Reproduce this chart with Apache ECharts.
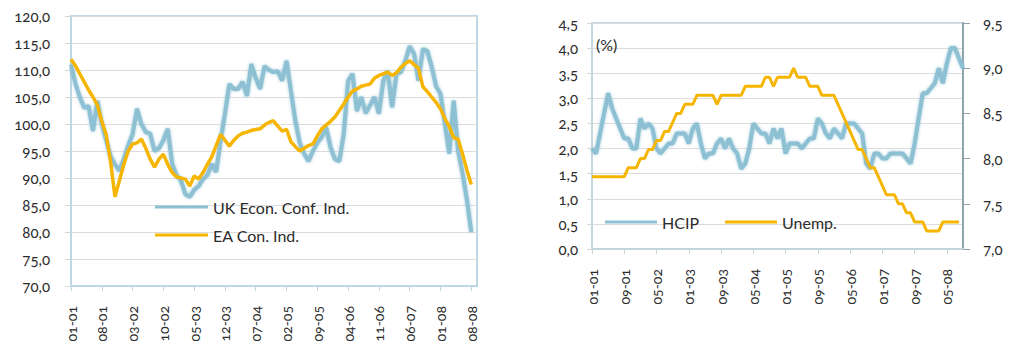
<!DOCTYPE html>
<html>
<head>
<meta charset="utf-8">
<script src="https://cdn.jsdelivr.net/npm/echarts@6/dist/echarts.min.js"></script>
<style>
  html, body { margin: 0; padding: 0; background: #fff; }
  #chart { width: 1010px; height: 352px; }
  /* humanist old-style figures for all chart text */
  #chart text { font-variant-numeric: oldstyle-nums !important; font-feature-settings: "onum" 1 !important; }
</style>
</head>
<body>
<div id="chart"></div>
<script>
// Monthly series, January 2001 onwards (index 0 = 2001-01)
const ukConf = [
  111.0,107.5,105.0,103.0,103.3,98.7,104.3,100.0,97.0,94.0,
  92.5,91.3,93.5,96.0,98.1,102.8,100.0,98.5,98.2,95.0,
  95.5,97.0,99.1,92.6,90.5,89.5,87.0,86.5,87.8,88.5,
  89.8,90.5,92.6,91.1,96.9,101.9,107.4,106.5,106.5,107.8,
  105.2,111.1,108.5,106.5,110.7,110.0,109.6,109.8,108.0,111.7,
  106.1,100.6,96.5,94.5,93.1,95.0,96.5,97.6,99.4,95.7,
  93.5,93.1,98.1,108.0,109.3,102.4,105.0,102.0,103.5,105.0,
  101.9,108.0,109.8,103.1,109.3,109.6,111.7,114.4,113.0,108.0,
  113.9,113.5,110.6,107.0,105.6,100.0,94.5,104.3,95.0,91.0,
  86.0,80.0
];
const eaConf = [
  112.0,110.8,109.3,107.8,106.3,105.0,103.5,100.5,98.0,93.0,
  86.5,89.5,92.5,95.0,96.3,96.5,97.2,95.5,93.5,92.0,
  93.5,94.4,92.5,91.0,90.2,90.0,89.8,88.5,90.4,89.8,
  91.0,92.5,93.9,96.0,98.1,97.0,95.9,97.0,97.8,98.3,
  98.5,98.8,99.0,99.1,99.8,100.3,100.6,99.6,98.7,99.0,
  96.7,95.8,95.0,95.5,96.0,96.3,97.8,99.1,99.8,100.5,
  101.3,102.5,103.7,105.0,106.1,106.5,107.0,107.2,107.4,108.5,
  109.0,109.3,109.6,109.0,109.5,110.5,111.2,111.7,111.0,110.3,
  106.9,106.0,105.0,104.0,102.8,101.0,99.5,97.5,97.2,94.5,
  91.5,88.8
];
const hicp = [
  2.0,1.9,2.3,2.7,3.1,2.8,2.6,2.4,2.2,2.2,2.0,2.0,
  2.6,2.4,2.5,2.4,2.0,1.9,2.0,2.1,2.1,2.3,2.3,2.3,
  2.1,2.4,2.5,2.1,1.8,1.9,1.9,2.1,2.2,2.0,2.2,2.0,
  1.9,1.6,1.7,2.0,2.5,2.4,2.3,2.3,2.1,2.4,2.2,2.4,
  1.9,2.1,2.1,2.1,2.0,2.1,2.2,2.2,2.6,2.5,2.3,2.2,
  2.4,2.3,2.2,2.5,2.5,2.5,2.4,2.3,1.7,1.6,1.9,1.9,
  1.8,1.8,1.9,1.9,1.9,1.9,1.8,1.7,2.1,2.6,3.1,3.1,
  3.2,3.3,3.6,3.3,3.7,4.0,4.0,3.8,3.6
];
const unemp = [
  7.8,7.8,7.8,7.8,7.8,7.8,7.8,7.8,7.8,7.9,7.9,7.9,
  8.0,8.0,8.1,8.1,8.2,8.2,8.3,8.3,8.4,8.5,8.5,8.6,
  8.6,8.6,8.7,8.7,8.7,8.7,8.7,8.6,8.7,8.7,8.7,8.7,
  8.7,8.7,8.8,8.8,8.8,8.8,8.8,8.9,8.9,8.8,8.9,8.9,
  8.9,8.9,9.0,8.9,8.9,8.9,8.8,8.8,8.8,8.7,8.7,8.7,
  8.7,8.6,8.5,8.4,8.3,8.2,8.1,8.1,8.0,7.9,7.9,7.8,
  7.7,7.6,7.6,7.6,7.5,7.5,7.4,7.4,7.3,7.3,7.3,7.2,
  7.2,7.2,7.2,7.3,7.3,7.3,7.3,7.3
];

// Tick labels (mm-yy) and their month spacing
const leftTicks = ['01-01','08-01','03-02','10-02','05-03','12-03','07-04','02-05','09-05','04-06','11-06','06-07','01-08','08-08'];
const leftStep = 7;
const rightTicks = ['01-01','09-01','05-02','01-03','09-03','05-04','01-05','09-05','05-06','01-07','09-07','05-08'];
const rightStep = 8;

const FONT = 'Lato';
const BLUE = '#8dc0d3';
const YELLOW = '#f5b500';
const FRAME = '#bcd8e4';
const TXT = '#2b2b2b';

const comma1 = v => v.toFixed(1).replace('.', ',');
const pairs = arr => arr.map((v, i) => [i, v]);

const chart = echarts.init(document.getElementById('chart'), null, { renderer: 'svg' });

const xCommon = (ticks, step, gridIndex, max, axisColor) => ({
  type: 'value', gridIndex, min: 0, max,
  axisLine: { show: true, lineStyle: { color: axisColor, width: 2 } },
  axisTick: { show: true, length: 5, lineStyle: { color: axisColor },
              customValues: ticks.map((_, k) => k * step) },
  axisLabel: { rotate: 90, margin: 20, fontFamily: FONT, fontSize: 14, color: TXT,
               customValues: ticks.map((_, k) => k * step),
               formatter: v => ticks[Math.round(v / step)] || '' },
  splitLine: { show: false }
});

chart.setOption({
  animation: false,
  backgroundColor: '#fff',
  title: {
    text: '(%)', left: 591, top: 31,
    textStyle: { fontFamily: FONT, fontSize: 16, fontWeight: 'normal', color: TXT }
  },
  grid: [
    { left: 71, top: 16, width: 406, height: 270, show: true, borderColor: FRAME, borderWidth: 2, backgroundColor: '#fff' },
    { left: 592, top: 23, width: 371, height: 226, show: true, borderColor: '#c5d6de', borderWidth: 2, backgroundColor: '#fff' }
  ],
  legend: [
    { data: ['UK Econ. Conf. Ind.', 'EA Con. Ind.'], orient: 'vertical', left: 150, top: 193,
      icon: 'rect', itemWidth: 53, itemHeight: 3, itemGap: 10,
      textStyle: { fontFamily: FONT, fontSize: 16, color: TXT, lineHeight: 18 } },
    { data: ['HCIP'], left: 600, top: 208, icon: 'rect', itemWidth: 52, itemHeight: 3,
      textStyle: { fontFamily: FONT, fontSize: 16, color: TXT, lineHeight: 18 } },
    { data: ['Unemp.'], left: 720, top: 208, icon: 'rect', itemWidth: 52, itemHeight: 3,
      textStyle: { fontFamily: FONT, fontSize: 16, color: TXT, lineHeight: 18 } }
  ],
  xAxis: [
    xCommon(leftTicks, leftStep, 0, 92.3, FRAME),
    xCommon(rightTicks, rightStep, 1, 92, '#c5d6de')
  ],
  yAxis: [
    { type: 'value', gridIndex: 0, min: 70, max: 120, interval: 5,
      axisLine: { show: true, lineStyle: { color: FRAME, width: 2 } },
      axisTick: { show: true, length: 6, lineStyle: { color: '#d5d5d5' } },
      axisLabel: { margin: 21, fontFamily: FONT, fontSize: 15, color: TXT, formatter: comma1 },
      splitLine: { show: true, lineStyle: { color: '#dcdcdc', width: 1 } } },
    { type: 'value', gridIndex: 1, min: 0, max: 4.5, interval: 0.5,
      axisLine: { show: true, lineStyle: { color: '#c5d6de', width: 2 } },
      axisTick: { show: true, length: 5, lineStyle: { color: '#d5d5d5' } },
      axisLabel: { margin: 14, fontFamily: FONT, fontSize: 15, color: TXT, formatter: comma1 },
      splitLine: { show: true, lineStyle: { color: '#dcdcdc', width: 1 } } },
    { type: 'value', gridIndex: 1, position: 'right', min: 7, max: 9.5, interval: 0.5,
      axisLine: { show: true, lineStyle: { color: '#8fa3ad', width: 2 } },
      axisTick: { show: true, length: 7, lineStyle: { color: '#8fa3ad' } },
      axisLabel: { margin: 20, fontFamily: FONT, fontSize: 15, color: TXT, formatter: comma1 },
      splitLine: { show: false } }
  ],
  series: [
    { name: 'UK Econ. Conf. Ind.', type: 'line', xAxisIndex: 0, yAxisIndex: 0,
      data: pairs(ukConf), showSymbol: false, itemStyle: { color: BLUE },
      lineStyle: { color: BLUE, width: 4, shadowBlur: 3, shadowColor: 'rgba(141,192,211,0.9)' } },
    { name: 'EA Con. Ind.', type: 'line', xAxisIndex: 0, yAxisIndex: 0,
      data: pairs(eaConf), showSymbol: false, itemStyle: { color: YELLOW },
      lineStyle: { color: YELLOW, width: 3.5 } },
    { name: 'HCIP', type: 'line', xAxisIndex: 1, yAxisIndex: 1,
      data: pairs(hicp), showSymbol: false, itemStyle: { color: BLUE },
      lineStyle: { color: BLUE, width: 4, shadowBlur: 3, shadowColor: 'rgba(141,192,211,0.9)' } },
    { name: 'Unemp.', type: 'line', xAxisIndex: 1, yAxisIndex: 2,
      data: pairs(unemp), showSymbol: false, itemStyle: { color: YELLOW },
      lineStyle: { color: YELLOW, width: 3 } }
  ]
});
</script>
</body>
</html>
